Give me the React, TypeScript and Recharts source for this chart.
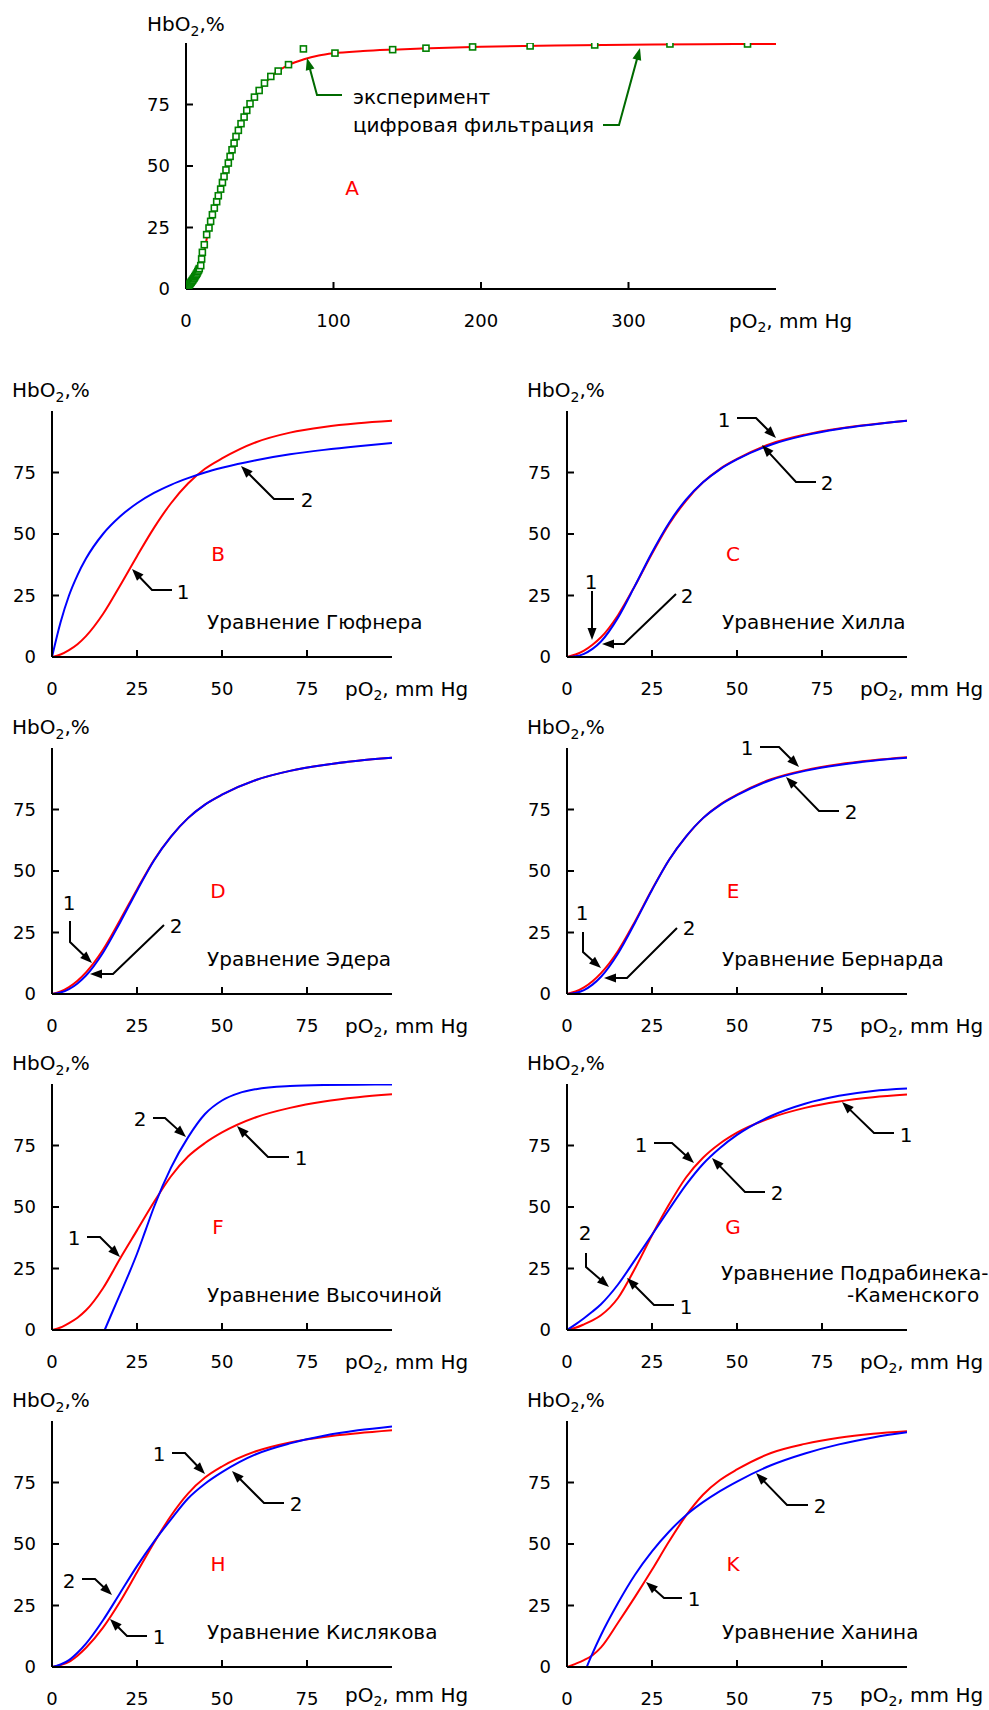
import React from 'react';
import { ComposedChart, Line, Scatter, XAxis, YAxis } from 'recharts';

const FONT = '"DejaVu Sans", Verdana, sans-serif';
const RED = '#ff0000';
const BLUE = '#0000ff';
const GREEN = '#008000';
const DARK_GREEN = '#006a00';

// ─── Data ─────────────────────────────────────────────────────────────────────
// panel A: experiment (markers) and digital filtration (red line), pO2 0..400
const A_EXP_X = [0, 0.5, 1, 1.5, 2, 2.5, 3, 3.5, 4, 4.5, 5, 5.5, 6, 6.5, 7, 7.5, 8, 8.5, 9,
  10, 10.6, 11.1, 12.4, 14, 15.6, 16.7, 17.9, 19.2, 20.8, 21.9, 23.5, 24.7, 25.8, 27.1, 28.7, 29.9,
  31.2, 32.6, 33.9, 35.5, 37.3, 39.4, 41.2, 43.4, 46.4, 49.6, 53.2, 57.5, 62.5, 69.5, 79.6,
  101, 140.1, 162.7, 194.3, 233.3, 277.1, 328.1, 380.7];
const A_EXP_Y = [0.3, 0.6, 0.9, 1.3, 1.6, 2, 2.4, 2.8, 3.2, 3.6, 4.1, 4.5, 5, 5.5, 6, 6.5, 7.1, 7.7, 8.3,
  9.5, 12.2, 14.9, 18, 22.1, 24.8, 27.5, 30.2, 32.9, 35.5, 37.9, 40.6, 43.3, 45.7, 48.4, 51.2, 53.9,
  56.6, 59.3, 62, 64.5, 67.2, 69.9, 72.6, 75.3, 78, 80.7, 83.7, 86.4, 88.6, 91.2, 97.6,
  95.9, 97.3, 97.9, 98.4, 98.8, 99.2, 99.6, 99.6];
const A_FIT_X = [0, 5, 10, 15, 20, 25, 30, 35, 40, 50, 60, 70, 80, 90, 100, 120, 140, 160, 200, 250, 300, 350, 400];
const A_FIT_Y = [0, 4, 9.5, 23, 34, 44, 54, 63.5, 71, 81, 87.5, 91.2, 93.4, 94.9, 95.8, 96.7, 97.3, 97.8, 98.5, 99, 99.3, 99.5, 99.6];

// panels B..K: common pO2 grid
const PO2 = [0, 2.5, 5, 7.5, 10, 15, 20, 25, 30, 35, 40, 45, 50, 60, 70, 80, 90, 100];

const B_RED = [0, 1, 2.8, 5.2, 8.5, 17.5, 29, 41, 52.5, 62.5, 70.5, 76.5, 80.7, 87.3, 91.2, 93.5, 95, 96];
const B_BLUE = [0, 14, 25, 33.3, 40, 50, 57.1, 62.5, 66.7, 70, 72.7, 75, 76.9, 80, 82.4, 84.2, 85.7, 87];

const C_RED = [0, 1, 2.6, 5, 8, 17, 29, 42, 54, 63.5, 71, 76.5, 80.5, 86.7, 90.4, 92.9, 94.6, 96];
const C_BLUE = [0, 0.3, 1.3, 3.3, 6.3, 16, 29, 42.5, 54.5, 64, 71, 76.3, 80.3, 86.3, 90.1, 92.7, 94.5, 96];

const D_RED = [0, 1, 2.8, 5.4, 8.8, 18, 30, 42.5, 54.5, 64, 71.5, 77, 81, 87, 90.7, 93.1, 94.8, 96];
const D_BLUE = [0, 0.6, 2, 4.3, 7.5, 16.8, 29, 42, 54.3, 64, 71.5, 77, 81, 87, 90.7, 93.1, 94.8, 96];

const E_RED = [0, 1, 2.7, 5.2, 8.5, 17.5, 29.5, 42.5, 54.5, 64, 71.5, 77, 81, 87.3, 91, 93.4, 95, 96.2];
const E_BLUE = [0, 0.4, 1.6, 3.8, 7, 16.5, 29, 42.3, 54.5, 64, 71.5, 76.8, 80.8, 87, 90.7, 93.1, 94.8, 96];

const F_RED = [0, 1, 2.8, 5, 8, 17, 29, 40.5, 52, 62.5, 70.5, 76, 80.3, 86.5, 90.3, 92.9, 94.6, 95.8];
const F_BLUE_X = [15.5, 17.5, 20, 22.5, 25, 27.5, 30, 35, 40, 45, 50, 55, 60, 70, 80, 90, 100];
const F_BLUE = [0, 6.5, 14.5, 22.5, 31, 40.5, 50, 66, 78.3, 87.8, 93.3, 96.3, 97.9, 99.2, 99.6, 99.7, 99.8];

const G_RED = [0, 0.9, 2.3, 3.9, 6, 13, 25, 38.5, 51, 62, 70, 75.8, 80.2, 86.3, 90.3, 92.9, 94.6, 95.7];
const G_BLUE = [0, 2.3, 4.8, 7.5, 10.5, 18.5, 28.5, 38.7, 49, 59, 67.5, 74, 79.3, 87, 92, 95.2, 97.2, 98.2];

const H_RED = [0, 0.8, 2.1, 4.6, 7.8, 16, 26.5, 38.5, 50.5, 61.5, 70.5, 77, 81.5, 87.7, 91.3, 93.5, 95, 96.2];
const H_BLUE = [0, 1, 2.8, 5.8, 9.5, 19, 30, 41, 51, 60, 68.5, 74.5, 79.2, 86.5, 90.9, 94, 96.2, 97.8];

const K_RED = [0, 1.3, 2.8, 4.8, 8, 18, 28.5, 39.5, 51, 61.5, 70, 76, 80.3, 87, 90.7, 93.2, 94.8, 95.8];
const K_BLUE_X = [5.8, 7.5, 10, 15, 20, 25, 30, 35, 40, 45, 50, 60, 70, 80, 90, 100];
const K_BLUE = [0, 5.5, 13, 26, 37.5, 47, 55, 61.7, 67, 71.5, 75.4, 82, 86.8, 90.5, 93.3, 95.4];

const Y_TICKS = [0, 25, 50, 75];
const X_TICKS_SMALL = [0, 25, 50, 75];
const X_TICKS_A = [0, 100, 200, 300];

const zip = (xs: number[], ys: number[]) => xs.map((x, i) => ({ x, y: ys[i] }));

// ─── Layout (page pixels) ─────────────────────────────────────────────────────
const COL_X = [52, 567];
const ROW_Y = [657, 994, 1330, 1667];
const PW = 340;
const PH = 246;

const PANELS = [
  { ox: COL_X[0], oy: ROW_Y[0], letter: 'B', red: B_RED, blue: B_BLUE, title: ['Уравнение Гюфнера'] },
  { ox: COL_X[1], oy: ROW_Y[0], letter: 'C', red: C_RED, blue: C_BLUE, title: ['Уравнение Хилла'] },
  { ox: COL_X[0], oy: ROW_Y[1], letter: 'D', red: D_RED, blue: D_BLUE, title: ['Уравнение Эдера'] },
  { ox: COL_X[1], oy: ROW_Y[1], letter: 'E', red: E_RED, blue: E_BLUE, title: ['Уравнение Бернарда'] },
  { ox: COL_X[0], oy: ROW_Y[2], letter: 'F', red: F_RED, blue: F_BLUE, blueX: F_BLUE_X, title: ['Уравнение Высочиной'] },
  { ox: COL_X[1], oy: ROW_Y[2], letter: 'G', red: G_RED, blue: G_BLUE, title: ['Уравнение Подрабинека-', '-Каменского'] },
  { ox: COL_X[0], oy: ROW_Y[3], letter: 'H', red: H_RED, blue: H_BLUE, title: ['Уравнение Кислякова'] },
  { ox: COL_X[1], oy: ROW_Y[3], letter: 'K', red: K_RED, blue: K_BLUE, blueX: K_BLUE_X, title: ['Уравнение Ханина'] },
];

// numbered arrows: [label, labelX, labelY, path ending at arrow tip]
const ARROWS: [string, number, number, number[][]][] = [
  ['1', 183, 592, [[172, 590], [152, 590], [132, 569]]],
  ['2', 307, 500, [[294, 499], [274, 499], [241, 466]]],
  ['1', 724, 420, [[737, 418], [756, 418], [776, 438]]],
  ['2', 827, 483, [[816, 482], [796, 482], [762, 445]]],
  ['1', 591, 582, [[592, 591], [592, 640]]],
  ['2', 687, 596, [[676, 594], [624, 644], [602, 644]]],
  ['1', 69, 903, [[70, 921], [70, 942], [92, 963]]],
  ['2', 176, 926, [[164, 925], [113, 974], [90, 974]]],
  ['1', 747, 748, [[760, 747], [779, 747], [799, 767]]],
  ['2', 851, 812, [[839, 811], [819, 811], [786, 777]]],
  ['1', 582, 913, [[583, 932], [583, 952], [601, 968]]],
  ['2', 689, 928, [[677, 928], [627, 978], [604, 978]]],
  ['2', 140, 1119, [[153, 1118], [165, 1118], [186, 1137]]],
  ['1', 301, 1158, [[289, 1157], [268, 1157], [237, 1126]]],
  ['1', 74, 1238, [[87, 1237], [100, 1237], [120, 1257]]],
  ['1', 906, 1135, [[894, 1133], [874, 1133], [842, 1102]]],
  ['1', 641, 1145, [[654, 1143], [672, 1143], [694, 1163]]],
  ['2', 777, 1193, [[765, 1192], [745, 1192], [712, 1158]]],
  ['2', 585, 1233, [[586, 1253], [586, 1267], [609, 1287]]],
  ['1', 686, 1307, [[674, 1305], [654, 1305], [627, 1278]]],
  ['1', 159, 1454, [[172, 1453], [185, 1453], [205, 1474]]],
  ['2', 296, 1504, [[284, 1503], [264, 1503], [232, 1471]]],
  ['2', 69, 1581, [[82, 1579], [95, 1579], [112, 1595]]],
  ['1', 159, 1637, [[147, 1636], [127, 1636], [110, 1619]]],
  ['1', 694, 1599, [[682, 1598], [664, 1598], [646, 1582]]],
  ['2', 820, 1506, [[808, 1505], [787, 1505], [756, 1473]]],
];

// ─── Axis ticks (tick marks point into the plot) ──────────────────────────────
const Y_GAP = 16;
const X_GAP = 32;

function YTick(props: any) {
  const { x, y, payload } = props;
  return (
    <g>
      {payload.value !== 0 && (
        <line x1={x + Y_GAP} x2={x + Y_GAP + 7} y1={y} y2={y} stroke="#000" strokeWidth={2} />
      )}
      <text x={x} y={y} dy="0.36em" textAnchor="end" fontSize={18} fontFamily={FONT} fill="#000">
        {payload.value}
      </text>
    </g>
  );
}

function XTick(props: any) {
  const { x, y, payload } = props;
  return (
    <g>
      {payload.value !== 0 && (
        <line x1={x} x2={x} y1={y - X_GAP} y2={y - X_GAP - 7} stroke="#000" strokeWidth={2} />
      )}
      <text x={x} y={y} dy="0.36em" textAnchor="middle" fontSize={18} fontFamily={FONT} fill="#000">
        {payload.value}
      </text>
    </g>
  );
}

function Square(props: any) {
  const { cx, cy } = props;
  if (cx == null || cy == null) return null;
  return <rect x={cx - 3} y={cy - 3} width={6} height={6} fill="#fff" stroke={GREEN} strokeWidth={1.6} />;
}

// ─── One panel ────────────────────────────────────────────────────────────────
function Panel({ ox, oy, w, h, xMax, xTicks, lines, markers }: any) {
  const ML = 60, MT = 20, MR = 14, MB = 50;
  return (
    <div style={{ position: 'absolute', left: ox - ML, top: oy - h - MT }}>
      <ComposedChart width={ML + w + MR} height={MT + h + MB} margin={{ top: MT, right: MR, left: 0, bottom: 0 }}>
        <XAxis
          type="number" dataKey="x" domain={[0, xMax]} ticks={xTicks} interval={0}
          height={MB} tickSize={0} tickMargin={X_GAP} tickLine={false}
          axisLine={{ stroke: '#000', strokeWidth: 2 }} tick={XTick} allowDataOverflow
        />
        <YAxis
          type="number" dataKey="y" domain={[0, 100]} ticks={Y_TICKS} interval={0}
          width={ML} tickSize={0} tickMargin={Y_GAP} tickLine={false}
          axisLine={{ stroke: '#000', strokeWidth: 2 }} tick={YTick} allowDataOverflow
        />
        {lines.map((l: any, i: number) => (
          <Line
            key={i} data={l.data} dataKey="y" type="monotone" stroke={l.color}
            strokeWidth={2} dot={false} activeDot={false} isAnimationActive={false}
          />
        ))}
        {markers && (
          <Scatter data={markers} dataKey="y" shape={Square} isAnimationActive={false} />
        )}
      </ComposedChart>
    </div>
  );
}

// ─── Overlay texts ────────────────────────────────────────────────────────────
function HbLabel({ x, y }: { x: number; y: number }) {
  return (
    <text x={x} y={y} fontSize={20} fontFamily={FONT} fill="#000">
      HbO<tspan fontSize={14} dy={5}>2</tspan><tspan dy={-5}>,%</tspan>
    </text>
  );
}

function PoLabel({ x, y }: { x: number; y: number }) {
  return (
    <text x={x} y={y} fontSize={20} fontFamily={FONT} fill="#000">
      pO<tspan fontSize={14} dy={4}>2</tspan><tspan dy={-4}>, mm Hg</tspan>
    </text>
  );
}

function Arrow({ pts, color }: { pts: number[][]; color: string }) {
  const n = pts.length;
  const [tx, ty] = pts[n - 1];
  const [px, py] = pts[n - 2];
  const len = Math.hypot(tx - px, ty - py);
  const dx = (tx - px) / len, dy = (ty - py) / len;
  const L = 12, HW = 4.5;
  const bx = tx - dx * L, by = ty - dy * L;
  const line = pts.slice(0, n - 1).concat([[bx + dx, by + dy]]);
  return (
    <g>
      <polyline points={line.map(p => p.join(',')).join(' ')} fill="none" stroke={color} strokeWidth={2} />
      <polygon
        points={`${tx},${ty} ${bx - dy * HW},${by + dx * HW} ${bx + dy * HW},${by - dx * HW}`}
        fill={color}
      />
    </g>
  );
}

export default function App() {
  return (
    <div style={{ position: 'absolute', left: 0, top: 0, width: 989, height: 1710, background: '#fff' }}>
      <Panel
        ox={186} oy={289} w={590} h={PH} xMax={400} xTicks={X_TICKS_A}
        lines={[{ data: zip(A_FIT_X, A_FIT_Y), color: RED }]}
        markers={zip(A_EXP_X, A_EXP_Y)}
      />
      {PANELS.map(p => (
        <Panel
          key={p.letter} ox={p.ox} oy={p.oy} w={PW} h={PH} xMax={100} xTicks={X_TICKS_SMALL}
          lines={[
            { data: zip(PO2, p.red), color: RED },
            { data: zip(p.blueX ?? PO2, p.blue), color: BLUE },
          ]}
        />
      ))}

      <svg width={989} height={1710} style={{ position: 'absolute', left: 0, top: 0, pointerEvents: 'none' }}>
        {/* panel A */}
        <HbLabel x={147} y={31} />
        <PoLabel x={776 - 47} y={289 + 39} />
        <text x={352} y={188} dy="0.36em" textAnchor="middle" fontSize={20} fontFamily={FONT} fill={RED}>A</text>
        <text x={353} y={97} dy="0.36em" fontSize={20} fontFamily={FONT} fill="#000">эксперимент</text>
        <text x={353} y={125} dy="0.36em" fontSize={20} fontFamily={FONT} fill="#000">цифровая фильтрация</text>
        <Arrow pts={[[342, 95], [317, 95], [307, 58]]} color={DARK_GREEN} />
        <Arrow pts={[[603, 125], [619, 125], [640, 48]]} color={DARK_GREEN} />

        {PANELS.map(p => (
          <g key={p.letter}>
            <HbLabel x={p.ox - 40} y={p.oy - PH - 14} />
            <PoLabel x={p.ox + PW - 47} y={Math.min(p.oy + 39, 1702)} />
            <text x={p.ox + 166} y={p.oy - 103} dy="0.36em" textAnchor="middle" fontSize={20} fontFamily={FONT} fill={RED}>
              {p.letter}
            </text>
            {p.title.length === 1 ? (
              <text x={p.ox + 155} y={p.oy - 35} dy="0.36em" fontSize={20} fontFamily={FONT} fill="#000">{p.title[0]}</text>
            ) : (
              <>
                <text x={p.ox + 154} y={p.oy - 57} dy="0.36em" fontSize={20} fontFamily={FONT} fill="#000">{p.title[0]}</text>
                <text x={p.ox + 280} y={p.oy - 35} dy="0.36em" fontSize={20} fontFamily={FONT} fill="#000">{p.title[1]}</text>
              </>
            )}
          </g>
        ))}

        {ARROWS.map(([label, lx, ly, pts], i) => (
          <g key={i}>
            <text x={lx} y={ly} dy="0.36em" textAnchor="middle" fontSize={20} fontFamily={FONT} fill="#000">{label}</text>
            <Arrow pts={pts} color="#000" />
          </g>
        ))}
      </svg>
    </div>
  );
}
